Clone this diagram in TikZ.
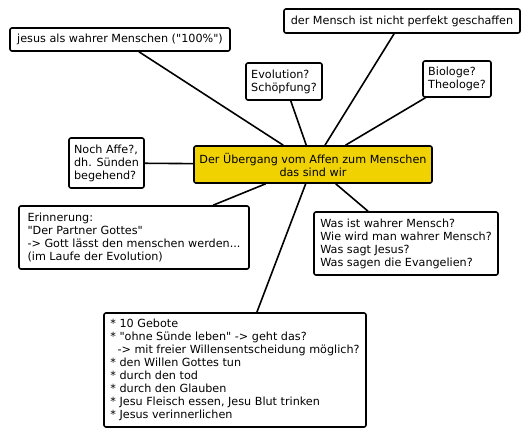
\documentclass[tikz,border=0pt]{standalone}
\usepackage{fontspec}
\newfontfamily\djv{DejaVu Sans}
\begin{document}
\begin{tikzpicture}[x=1pt,y=-1pt,
  mbox/.style={draw=black,line width=1.6pt,rounded corners=2pt,fill=white,
    align=left,inner xsep=4.5pt,inner ysep=0pt,
    font=\djv\fontsize{11.2}{13}\selectfont,text=black},
  rootbox/.style={mbox,fill=rootyellow,align=center},
  conn/.style={line width=1.6pt,draw=black}]
\definecolor{rootyellow}{HTML}{F0D200}
\useasboundingbox (0,0) rectangle (530,438);
\node[rootbox,minimum width=238pt,minimum height=37pt] (root) at (313,164.5)
  {Der Übergang vom Affen zum Menschen\\das sind wir};
\node[mbox,minimum width=220pt,minimum height=23pt] (jesus) at (120,39.5)
  {jesus als wahrer Menschen ("100\%")};
\node[mbox,minimum width=236pt,minimum height=24pt] (perf) at (402,21)
  {der Mensch ist nicht perfekt geschaffen};
\node[mbox,minimum width=76pt,minimum height=37pt] (evo) at (284,81.5)
  {Evolution?\\Schöpfung?};
\node[mbox,minimum width=68pt,minimum height=36pt] (bio) at (457,79)
  {Biologe?\\Theologe?};
\node[mbox,minimum width=75pt,minimum height=50pt] (affe) at (106.5,163)
  {Noch Affe?,\\dh. Sünden\\begehend?};
\node[mbox,minimum width=230pt,minimum height=63pt] (erin) at (134,237.5)
  {Erinnerung:\\"Der Partner Gottes"\\-> Gott lässt den menschen werden...\\(im Laufe der Evolution)};
\node[mbox,minimum width=184pt,minimum height=63pt] (was) at (406,243.5)
  {Was ist wahrer Mensch?\\Wie wird man wahrer Mensch?\\Was sagt Jesus?\\Was sagen die Evangelien?};
\node[mbox,minimum width=262pt,minimum height=114pt] (low) at (235,370)
  {{*} 10 Gebote\\{*} "ohne Sünde leben" -> geht das?\\\ \ -> mit freier Willensentscheidung möglich?\\{*} den Willen Gottes tun\\{*} durch den tod\\{*} durch den Glauben\\{*} Jesu Fleisch essen, Jesu Blut trinken\\{*} Jesus verinnerlichen};
\foreach \n in {jesus,perf,evo,bio,affe,erin,was,low}
  \draw[conn] (root) -- (\n);
\end{tikzpicture}
\end{document}
